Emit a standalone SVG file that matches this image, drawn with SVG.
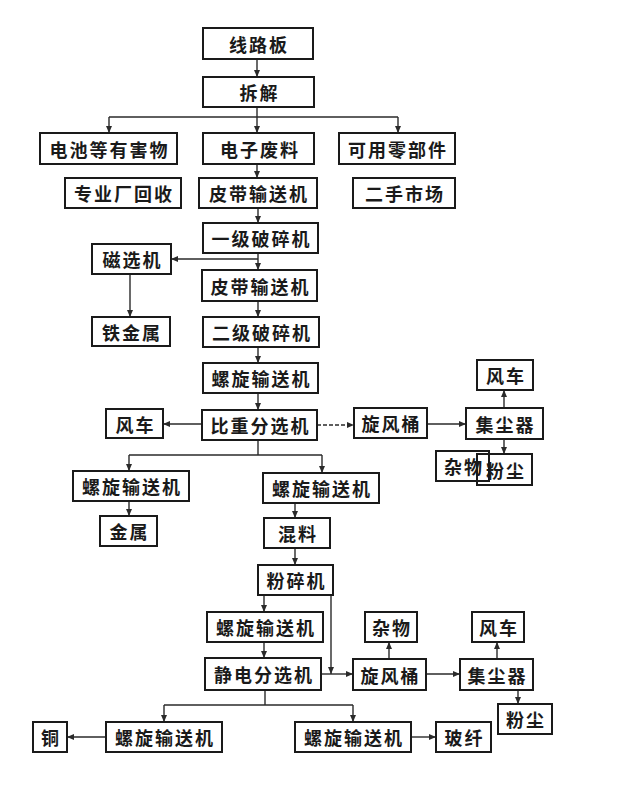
<svg xmlns="http://www.w3.org/2000/svg" width="624" height="790" viewBox="0 0 624 790">
<style>
.n rect{fill:#fff;stroke:#1a1a1a;stroke-width:2}
.n text{font-family:"Noto Sans CJK SC","Noto Sans CJK JP",sans-serif;font-size:18px;font-weight:bold;fill:#1a1a1a;text-anchor:middle;dominant-baseline:central;letter-spacing:2px}
.c path,.c line{stroke:#2a2a2a;stroke-width:1.4;fill:none}
.c .d{stroke-dasharray:4 2}
</style>
<defs>
<marker id="a" markerWidth="8" markerHeight="8" refX="7" refY="4" orient="auto" markerUnits="userSpaceOnUse">
<path d="M0,1 L7,4 L0,7 Z" fill="#2a2a2a"/>
</marker>
</defs>
<rect width="624" height="790" fill="#fff"/>
<g class="c">
<line x1="257" y1="59" x2="257" y2="77" marker-end="url(#a)"/>
<line x1="257" y1="107" x2="257" y2="117"/>
<line x1="109" y1="117" x2="398" y2="117"/>
<line x1="109" y1="117" x2="109" y2="133" marker-end="url(#a)"/>
<line x1="257" y1="117" x2="257" y2="133" marker-end="url(#a)"/>
<line x1="398" y1="117" x2="398" y2="133" marker-end="url(#a)"/>
<line x1="257" y1="164" x2="257" y2="178" marker-end="url(#a)"/>
<line x1="258" y1="208" x2="258" y2="223" marker-end="url(#a)"/>
<line x1="258" y1="253" x2="258" y2="270" marker-end="url(#a)"/>
<line x1="258" y1="259" x2="171" y2="259" marker-end="url(#a)"/>
<line x1="130" y1="274" x2="130" y2="317" marker-end="url(#a)"/>
<line x1="258" y1="301" x2="258" y2="317" marker-end="url(#a)"/>
<line x1="258" y1="347" x2="258" y2="363" marker-end="url(#a)"/>
<line x1="258" y1="393" x2="258" y2="410" marker-end="url(#a)"/>
<line x1="202" y1="424" x2="163" y2="424" marker-end="url(#a)"/>
<line class="d" x1="317" y1="425" x2="354" y2="425" marker-end="url(#a)"/>
<line x1="427" y1="424" x2="466" y2="424" marker-end="url(#a)"/>
<line x1="504" y1="408" x2="504" y2="390" marker-end="url(#a)"/>
<line x1="504" y1="439" x2="504" y2="454" marker-end="url(#a)"/>
<line x1="258" y1="440" x2="258" y2="455"/>
<line x1="129" y1="455" x2="322" y2="455"/>
<line x1="129" y1="455" x2="129" y2="471" marker-end="url(#a)"/>
<line x1="322" y1="455" x2="322" y2="473" marker-end="url(#a)"/>
<line x1="129" y1="501" x2="129" y2="516" marker-end="url(#a)"/>
<line x1="295" y1="503" x2="295" y2="518" marker-end="url(#a)"/>
<line x1="295" y1="548" x2="295" y2="565" marker-end="url(#a)"/>
<line x1="264" y1="595" x2="264" y2="612" marker-end="url(#a)"/>
<line x1="331" y1="595" x2="331" y2="674" marker-end="url(#a)"/>
<line x1="264" y1="642" x2="264" y2="658" marker-end="url(#a)"/>
<line x1="321" y1="674" x2="353" y2="674" marker-end="url(#a)"/>
<line x1="389" y1="659" x2="389" y2="642" marker-end="url(#a)"/>
<line x1="426" y1="674" x2="460" y2="674" marker-end="url(#a)"/>
<line x1="497" y1="659" x2="497" y2="642" marker-end="url(#a)"/>
<line x1="518" y1="690" x2="518" y2="704" marker-end="url(#a)"/>
<line x1="265" y1="690" x2="265" y2="705"/>
<line x1="164" y1="705" x2="353" y2="705"/>
<line x1="164" y1="705" x2="164" y2="722" marker-end="url(#a)"/>
<line x1="353" y1="705" x2="353" y2="722" marker-end="url(#a)"/>
<line x1="106" y1="737" x2="67" y2="737" marker-end="url(#a)"/>
<line x1="411" y1="737" x2="436" y2="737" marker-end="url(#a)"/>
</g>
<g id="n1" class="n"><rect x="203" y="28" width="110" height="31"/><text x="259" y="43.5">线路板</text></g>
<g id="n2" class="n"><rect x="203" y="77" width="111" height="30"/><text x="259.5" y="92">拆解</text></g>
<g id="n3" class="n"><rect x="40" y="133" width="137" height="31"/><text x="109.5" y="148.5">电池等有害物</text></g>
<g id="n4" class="n"><rect x="203" y="133" width="111" height="31"/><text x="260" y="148.5">电子废料</text></g>
<g id="n5" class="n"><rect x="339" y="133" width="116" height="31"/><text x="398" y="148.5">可用零部件</text></g>
<g id="n6" class="n"><rect x="65" y="178" width="116" height="30"/><text x="124" y="193">专业厂回收</text></g>
<g id="n7" class="n"><rect x="199" y="178" width="118" height="30"/><text x="259" y="193">皮带输送机</text></g>
<g id="n8" class="n"><rect x="353" y="178" width="102" height="30"/><text x="405" y="193">二手市场</text></g>
<g id="n9" class="n"><rect x="203" y="223" width="115" height="30"/><text x="261.5" y="238">一级破碎机</text></g>
<g id="n10" class="n"><rect x="92" y="244" width="79" height="30"/><text x="132.5" y="259">磁选机</text></g>
<g id="n11" class="n"><rect x="202" y="270" width="115" height="31"/><text x="260.5" y="285.5">皮带输送机</text></g>
<g id="n12" class="n"><rect x="92" y="317" width="78" height="29"/><text x="132" y="331.5">铁金属</text></g>
<g id="n13" class="n"><rect x="203" y="317" width="116" height="30"/><text x="262" y="332">二级破碎机</text></g>
<g id="n14" class="n"><rect x="203" y="363" width="115" height="30"/><text x="261.5" y="378">螺旋输送机</text></g>
<g id="n15" class="n"><rect x="477" y="360" width="56" height="30"/><text x="506" y="375">风车</text></g>
<g id="n16" class="n"><rect x="202" y="410" width="115" height="30"/><text x="260.5" y="425">比重分选机</text></g>
<g id="n17" class="n"><rect x="106" y="409" width="57" height="29"/><text x="135.5" y="423.5">风车</text></g>
<g id="n18" class="n"><rect x="354" y="408" width="73" height="30"/><text x="391.5" y="423">旋风桶</text></g>
<g id="n19" class="n"><rect x="466" y="408" width="77" height="31"/><text x="505.5" y="423.5">集尘器</text></g>
<g id="n20" class="n"><rect x="436" y="451" width="53" height="30"/><text x="464" y="466">杂物</text></g>
<g id="n21" class="n"><rect x="477" y="454" width="55" height="31" fill="none" style="fill:none"/><text x="506" y="469.5">粉尘</text></g>
<g id="n22" class="n"><rect x="73" y="471" width="116" height="30"/><text x="132" y="486">螺旋输送机</text></g>
<g id="n23" class="n"><rect x="263" y="473" width="116" height="30"/><text x="322" y="488">螺旋输送机</text></g>
<g id="n24" class="n"><rect x="100" y="516" width="57" height="30"/><text x="129.5" y="531">金属</text></g>
<g id="n25" class="n"><rect x="264" y="518" width="66" height="30"/><text x="298" y="533">混料</text></g>
<g id="n26" class="n"><rect x="258" y="565" width="75" height="30"/><text x="296.5" y="580">粉碎机</text></g>
<g id="n27" class="n"><rect x="207" y="612" width="116" height="30"/><text x="266" y="627">螺旋输送机</text></g>
<g id="n28" class="n"><rect x="205" y="658" width="116" height="32"/><text x="264" y="674">静电分选机</text></g>
<g id="n29" class="n"><rect x="353" y="659" width="73" height="31"/><text x="390.5" y="674.5">旋风桶</text></g>
<g id="n30" class="n"><rect x="365" y="612" width="52" height="30"/><text x="392" y="627">杂物</text></g>
<g id="n31" class="n"><rect x="472" y="612" width="52" height="30"/><text x="499" y="627">风车</text></g>
<g id="n32" class="n"><rect x="460" y="659" width="73" height="31"/><text x="497.5" y="674.5">集尘器</text></g>
<g id="n33" class="n"><rect x="498" y="704" width="54" height="30"/><text x="526" y="719">粉尘</text></g>
<g id="n34" class="n"><rect x="33" y="722" width="34" height="30"/><text x="51" y="737">铜</text></g>
<g id="n35" class="n"><rect x="106" y="722" width="116" height="30"/><text x="165" y="737">螺旋输送机</text></g>
<g id="n36" class="n"><rect x="295" y="722" width="116" height="30"/><text x="354" y="737">螺旋输送机</text></g>
<g id="n37" class="n"><rect x="436" y="722" width="55" height="30"/><text x="464.5" y="737">玻纤</text></g>
</svg>
